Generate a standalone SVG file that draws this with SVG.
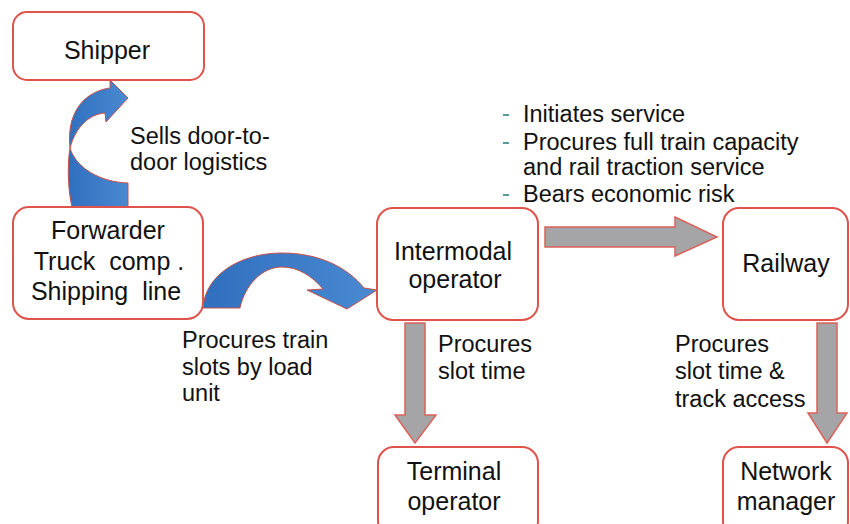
<svg xmlns="http://www.w3.org/2000/svg" width="850" height="524" viewBox="0 0 850 524">
<style>
.box{fill:#fff;stroke:#e0534b;stroke-width:2}
.t{font-family:"Liberation Sans",Arial,sans-serif;font-size:25px;fill:#111}
.l{font-family:"Liberation Sans",Arial,sans-serif;font-size:23.5px;fill:#111}
.mid{text-anchor:middle}
.gray{fill:#a5a5a7;stroke:#dd625b;stroke-width:1.5}
.blue{fill:url(#bg);stroke:#c9504a;stroke-width:1}
.dash{fill:#5a9a98}
</style>
<defs>
<linearGradient id="bg" x1="0" y1="0" x2="1" y2="0">
<stop offset="0" stop-color="#2f6fbd"/>
<stop offset="1" stop-color="#4a8ad2"/>
</linearGradient>
</defs>
<rect width="850" height="524" fill="#fff"/>
<g id="connectors">
<path class="blue" d="M128,207 L72,207 C68,190 67,165 70,148 C68,128 72,112 84,100 C92,93 101,89 110,88 L110,80 L128,98 L106,122 L105,113 C90,114 76,126 70,148 C76,168 100,182 128,183 Z"/>
<path class="blue" d="M203,308 C205,275 240,253 282,253 C320,253 348,268 364,288 L377,290 L347,309 L307,290 L323,289 C312,276 298,267 282,267 C262,267 245,285 240,308 Z"/>
<path class="gray" d="M545,227 L675,227 L675,217 L717,237 L675,256 L675,247 L545,247 Z"/>
<path class="gray" d="M405,323 L425,323 L425,415 L436,415 L415,443 L395,415 L405,415 Z"/>
<path class="gray" d="M817,323 L837,323 L837,413 L847,413 L827,443 L808,413 L817,413 Z"/>
</g>
<g id="shipper">
<rect class="box" x="13" y="12" width="191" height="68" rx="14"/>
<text class="t mid" x="107" y="59">Shipper</text>
</g>
<g id="forwarder">
<rect class="box" x="13" y="207" width="190" height="112" rx="16"/>
<text class="t mid" x="108" y="239">Forwarder</text>
<text class="t mid" x="109" y="270" xml:space="preserve">Truck  comp .</text>
<text class="t mid" x="106" y="300" xml:space="preserve">Shipping  line</text>
</g>
<g id="intermodal">
<rect class="box" x="377" y="208" width="161" height="112" rx="16"/>
<text class="t mid" x="453" y="260">Intermodal</text>
<text class="t mid" x="455" y="288">operator</text>
</g>
<g id="railway">
<rect class="box" x="723" y="208" width="125" height="112" rx="16"/>
<text class="t mid" x="786" y="272">Railway</text>
</g>
<g id="terminal">
<rect class="box" x="378" y="447" width="160" height="90" rx="16"/>
<text class="t mid" x="454" y="480">Terminal</text>
<text class="t mid" x="454" y="510">operator</text>
</g>
<g id="network">
<rect class="box" x="723" y="447" width="125" height="90" rx="16"/>
<text class="t mid" x="786" y="480">Network</text>
<text class="t mid" x="786" y="510">manager</text>
</g>
<g id="labels">
<text class="l" x="130" y="144">Sells door-to-</text>
<text class="l" x="130" y="170">door logistics</text>
<text class="l" x="182" y="348">Procures train</text>
<text class="l" x="182" y="375">slots by load</text>
<text class="l" x="182" y="401">unit</text>
<rect class="dash" x="503" y="114" width="6" height="2"/>
<rect class="dash" x="503" y="142" width="6" height="2"/>
<rect class="dash" x="503" y="194" width="6" height="2"/>
<text class="l" x="523" y="122">Initiates service</text>
<text class="l" x="523" y="150">Procures full train capacity</text>
<text class="l" x="523" y="175">and rail traction service</text>
<text class="l" x="523" y="202">Bears economic risk</text>
<text class="l" x="438" y="352">Procures</text>
<text class="l" x="438" y="379">slot time</text>
<text class="l" x="675" y="352">Procures</text>
<text class="l" x="675" y="379">slot time &amp;</text>
<text class="l" x="675" y="407">track access</text>
</g>
</svg>
